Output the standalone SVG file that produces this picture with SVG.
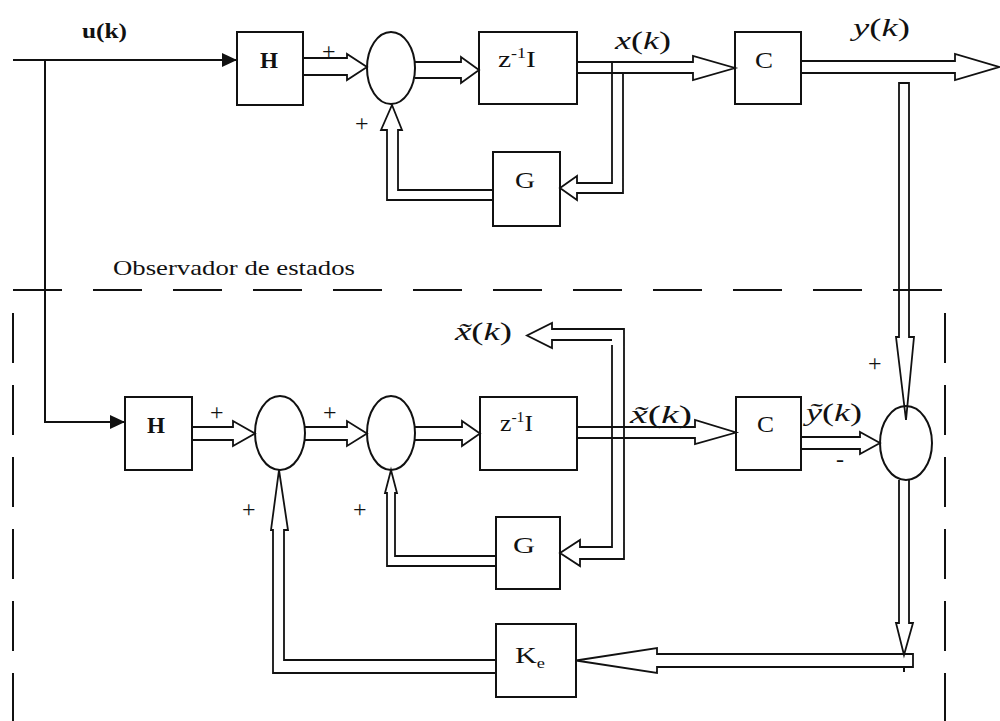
<svg xmlns="http://www.w3.org/2000/svg" width="1000" height="721" viewBox="0 0 1000 721">
<defs>
<style>
.bx{fill:none;stroke:#111;stroke-width:2}
.sm{fill:none;stroke:#111;stroke-width:2}
.ar{fill:none;stroke:#111;stroke-width:1.8;stroke-linejoin:miter}
.ln{fill:none;stroke:#111;stroke-width:2}
.dsh{fill:none;stroke:#111;stroke-width:2}
text{font-family:"Liberation Serif","DejaVu Serif",serif;fill:#111}
.lb{font-size:23px}
.pl{font-size:24px}
.mt{font-size:26px}
.it{font-style:italic}
</style>
<marker id="fa" markerUnits="userSpaceOnUse" markerWidth="16" markerHeight="14" refX="15" refY="7" orient="auto">
<path d="M0,0 L15,7 L0,14 Z" fill="#111"/>
</marker>
</defs>
<rect width="1000" height="721" fill="#fff"/>

<g id="connectors">
<path class="ln" d="M13,60 H237" marker-end="url(#fa)"/>
<path class="ln" d="M45,60 V422 H125" marker-end="url(#fa)"/>
<path class="ar" d="M303,58 H347 V54 L367,67 L347,80 V75 H303"/>
<path class="ar" d="M415,62 H461 V57 L479,70 L461,83 V78 H415"/>
<path class="ar" d="M577,62 H693 V56 L735,68 L693,80 V73 H577"/>
<path class="ar" d="M801,61 H955 V54 L999,67 L955,80 V73 H801"/>
<path class="ar" d="M612,62 V183 H577 V176 L560,188 L577,200 V193 H623 V73"/>
<path class="ar" d="M493,190 H398 V130 H402 L392,105 L381,130 H387 V200 H493"/>
<path class="ar" d="M899,337 V83 H909 V337 H914 L906,420 L896,337 Z"/>
<path class="ar" d="M192,427 H233 V421 L255,433.5 L233,446 V440 H192"/>
<path class="ar" d="M305,427 H347 V421 L367,433.5 L347,446 V440 H305"/>
<path class="ar" d="M415,427 H462 V421 L480,433.5 L462,446 V440 H415"/>
<path class="ar" d="M577,427 H695 V420 L736,432.5 L695,444 V438 H577"/>
<path class="ar" d="M801,437 H860 V432 L880,443 L860,454 V449 H801"/>
<path class="ar" d="M612,345 V547 H580 V540 L560,553 L580,566 V559 H624 V329 H552 V323 L527,335.5 L552,348 V340 H612"/>
<path class="ar" d="M496,556 H395 V493 H397 L391,470 L385,493 H387 V566 H496"/>
<path class="ar" d="M899,480 V623 H896 L904,655 L913,623 H909 V480"/>
<path class="ar" d="M657,654 H913 V667 H657 V673 L576,660.5 L657,648 Z"/>
<path class="ln" d="M904,667 V672"/>
<path class="ar" d="M496,660 H284 V530 H288 L279,470 L271,530 H273 V673 H496"/>
</g>

<g id="observer-boundary">
<path class="dsh" d="M13,290 H947" stroke-dasharray="49 31"/>
<path class="dsh" d="M13,313 V721" stroke-dasharray="50 22"/>
<path class="dsh" d="M945,313 V721" stroke-dasharray="50 22"/>
<text x="113" y="275" font-size="22" textLength="242" lengthAdjust="spacingAndGlyphs">Observador de estados</text>
</g>

<g id="plant-H">
<rect class="bx" x="237" y="32" width="66" height="73"/>
<text class="lb" x="260" y="68" font-weight="bold" textLength="18" lengthAdjust="spacingAndGlyphs">H</text>
</g>
<g id="plant-sum">
<ellipse class="sm" cx="391" cy="68" rx="24" ry="36"/>
</g>
<g id="plant-delay">
<rect class="bx" x="479" y="32" width="98" height="72"/>
<text class="lb" x="498" y="67" textLength="38" lengthAdjust="spacingAndGlyphs">z<tspan font-size="14" dy="-9">-1</tspan><tspan dy="9">I</tspan></text>
</g>
<g id="plant-C">
<rect class="bx" x="735" y="32" width="66" height="72"/>
<text class="lb" x="755" y="68" textLength="18" lengthAdjust="spacingAndGlyphs">C</text>
</g>
<g id="plant-G">
<rect class="bx" x="493" y="152" width="67" height="74"/>
<text class="lb" x="515" y="188" textLength="20" lengthAdjust="spacingAndGlyphs">G</text>
</g>

<g id="obs-H">
<rect class="bx" x="125" y="397" width="67" height="73"/>
<text class="lb" x="147" y="433" font-weight="bold" textLength="18" lengthAdjust="spacingAndGlyphs">H</text>
</g>
<g id="obs-sum1">
<ellipse class="sm" cx="280" cy="433" rx="25" ry="37"/>
</g>
<g id="obs-sum2">
<ellipse class="sm" cx="391" cy="433" rx="24" ry="37"/>
</g>
<g id="obs-delay">
<rect class="bx" x="480" y="397" width="97" height="73"/>
<text class="lb" x="500" y="431" textLength="33" lengthAdjust="spacingAndGlyphs">z<tspan font-size="14" dy="-9">-1</tspan><tspan dy="9">I</tspan></text>
</g>
<g id="obs-C">
<rect class="bx" x="736" y="397" width="65" height="73"/>
<text class="lb" x="757" y="432" textLength="17" lengthAdjust="spacingAndGlyphs">C</text>
</g>
<g id="obs-G">
<rect class="bx" x="496" y="517" width="64" height="72"/>
<text class="lb" x="513" y="553" textLength="22" lengthAdjust="spacingAndGlyphs">G</text>
</g>
<g id="obs-sum3">
<ellipse class="sm" cx="906" cy="443" rx="26" ry="37"/>
</g>
<g id="obs-Ke">
<rect class="bx" x="496" y="624" width="80" height="73"/>
<text class="lb" x="515" y="663" textLength="30" lengthAdjust="spacingAndGlyphs">K<tspan font-size="14" dy="5">e</tspan></text>
</g>

<g id="labels">
<text x="82" y="38" font-size="22" font-weight="bold" textLength="45" lengthAdjust="spacingAndGlyphs">u(k)</text>
<text class="mt" x="615" y="49" textLength="56" lengthAdjust="spacingAndGlyphs"><tspan class="it">x</tspan>(<tspan class="it">k</tspan>)</text>
<text class="mt" x="853" y="36" textLength="57" lengthAdjust="spacingAndGlyphs"><tspan class="it">y</tspan>(<tspan class="it">k</tspan>)</text>
<text class="mt" x="455" y="340" textLength="57" lengthAdjust="spacingAndGlyphs"><tspan class="it">x̃</tspan>(<tspan class="it">k</tspan>)</text>
<text class="mt" x="630" y="423" textLength="62" lengthAdjust="spacingAndGlyphs"><tspan class="it">x̃</tspan>(<tspan class="it">k</tspan>)</text>
<text class="mt" x="806" y="421" textLength="56" lengthAdjust="spacingAndGlyphs"><tspan class="it">ỹ</tspan>(<tspan class="it">k</tspan>)</text>
<text class="pl" x="322" y="59">+</text>
<text class="pl" x="355" y="131">+</text>
<text class="pl" x="210" y="420">+</text>
<text class="pl" x="323" y="420">+</text>
<text class="pl" x="242" y="517">+</text>
<text class="pl" x="353" y="517">+</text>
<text class="pl" x="868" y="371">+</text>
<text class="pl" x="836" y="467">-</text>
</g>
</svg>
